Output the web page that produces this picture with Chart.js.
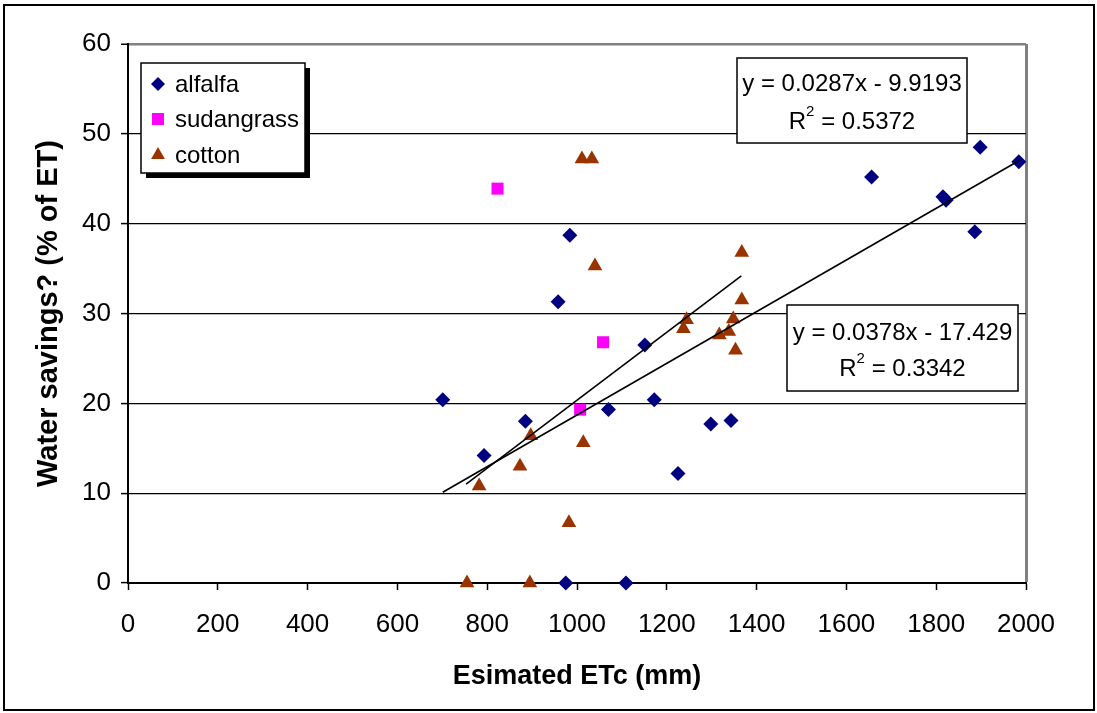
<!DOCTYPE html>
<html>
<head>
<meta charset="utf-8">
<script src="https://cdn.jsdelivr.net/npm/chart.js@4/dist/chart.umd.min.js"></script>
<style>
html,body{margin:0;padding:0;background:#fff;}
canvas{display:block;}
</style>
</head>
<body>
<canvas id="c" width="1097" height="713" style="width:1097px;height:713px"></canvas>
<script>
// ---- data ----
const alfalfaX = [701, 793, 885, 958, 984, 975, 1109, 1070, 1151, 1172, 1225, 1298, 1343, 1656, 1815, 1822, 1886, 1898, 1984];
const alfalfaY = [20.4, 14.2, 18.0, 31.3, 38.7, 0, 0, 19.3, 26.5, 20.4, 12.2, 17.7, 18.1, 45.2, 43.0, 42.6, 39.1, 48.5, 46.9];
const sudanX = [823, 1007, 1058];
const sudanY = [43.9, 19.3, 26.8];
const cottonX = [755, 895, 782, 873, 897, 1014, 982, 1040, 1011, 1033, 1244, 1237, 1367, 1348, 1317, 1338, 1353, 1367];
const cottonY = [0, 0, 10.8, 13.0, 16.4, 15.6, 6.7, 35.3, 47.2, 47.2, 29.3, 28.3, 31.5, 29.4, 27.6, 28.0, 25.9, 36.8];
// trendline endpoints (as drawn in the reference)
const alfalfaTrendX = [701, 1984];
const alfalfaTrendY = [10.1, 47.0];
const cottonTrendX = [753, 1366];
const cottonTrendY = [11.0, 34.2];
const seriesNames = ['alfalfa', 'sudangrass', 'cotton'];
const eqAlfalfa = ['y = 0.0287x - 9.9193', '0.5372'];
const eqCotton = ['y = 0.0378x - 17.429', '0.3342'];
const xTitle = 'Esimated ETc (mm)';
const yTitle = 'Water savings? (% of ET)';

const FONT = "'Liberation Sans', Arial, sans-serif";
const toPts = (xs, ys) => xs.map((x, i) => ({x: x, y: ys[i]}));

const colors = {alfalfa: '#000080', sudangrass: '#FF00FF', cotton: '#993300'};

function drawMarker(ctx, style, x, y, color) {
  ctx.save();
  ctx.fillStyle = color;
  ctx.beginPath();
  if (style === 'rectRot') {
    const r = 7;
    ctx.moveTo(x - r, y); ctx.lineTo(x, y - r); ctx.lineTo(x + r, y); ctx.lineTo(x, y + r);
  } else if (style === 'rect') {
    const s = 6;
    ctx.rect(x - s, y - s, 2 * s, 2 * s);
  } else {
    const r = 8;
    ctx.moveTo(x, y - r);
    ctx.lineTo(x + r * Math.sin(2 * Math.PI / 3), y - r * Math.cos(2 * Math.PI / 3));
    ctx.lineTo(x + r * Math.sin(4 * Math.PI / 3), y - r * Math.cos(4 * Math.PI / 3));
  }
  ctx.closePath();
  ctx.fill();
  ctx.restore();
}

function drawEqBox(ctx, x0, y0, x1, y1, eq, l1y, l2y) {
  ctx.save();
  ctx.fillStyle = '#fff';
  ctx.fillRect(x0, y0, x1 - x0, y1 - y0);
  ctx.strokeStyle = '#000';
  ctx.lineWidth = 1.5;
  ctx.strokeRect(x0, y0, x1 - x0, y1 - y0);
  const cx = (x0 + x1) / 2;
  ctx.fillStyle = '#000';
  ctx.textBaseline = 'middle';
  ctx.textAlign = 'center';
  ctx.font = '24px ' + FONT;
  ctx.fillText(eq[0], cx, l1y);
  const partR = 'R';
  const partRest = ' = ' + eq[1];
  const wR = ctx.measureText(partR).width;
  const wRest = ctx.measureText(partRest).width;
  ctx.font = '15px ' + FONT;
  const w2 = ctx.measureText('2').width;
  const total = wR + w2 + wRest;
  const sx = cx - total / 2;
  ctx.textAlign = 'left';
  ctx.font = '24px ' + FONT;
  ctx.fillText(partR, sx, l2y);
  ctx.font = '15px ' + FONT;
  ctx.fillText('2', sx + wR, l2y - 10);
  ctx.font = '24px ' + FONT;
  ctx.fillText(partRest, sx + wR + w2, l2y);
  ctx.restore();
}

const decor = {
  id: 'decor',
  beforeDraw(chart) {
    const ctx = chart.ctx;
    ctx.save();
    ctx.fillStyle = '#fff';
    ctx.fillRect(0, 0, chart.width, chart.height);
    ctx.restore();
  },
  afterDraw(chart) {
    const ctx = chart.ctx;
    ctx.save();
    ctx.strokeStyle = '#000';
    ctx.lineWidth = 2;
    ctx.strokeRect(4, 5, 1090, 705);
    ctx.restore();

    // legend box with shadow
    ctx.save();
    ctx.fillStyle = '#000';
    ctx.fillRect(146, 68, 164, 110);
    ctx.fillStyle = '#fff';
    ctx.fillRect(141, 63, 164, 110);
    ctx.strokeStyle = '#000';
    ctx.lineWidth = 1.5;
    ctx.strokeRect(141, 63, 164, 110);
    const styles = ['rectRot', 'rect', 'triangle'];
    const ys = [84, 119, 155];
    ctx.font = '24px ' + FONT;
    ctx.textBaseline = 'middle';
    ctx.textAlign = 'left';
    seriesNames.forEach((n, i) => {
      drawMarker(ctx, styles[i], 158, ys[i], colors[n]);
      ctx.fillStyle = '#000';
      ctx.fillText(n, 175, ys[i] + 1);
    });
    ctx.restore();

    drawEqBox(ctx, 737, 58, 967, 143, eqAlfalfa, 84, 122);
    drawEqBox(ctx, 787, 305, 1018, 391, eqCotton, 333, 369);
  }
};

new Chart(document.getElementById('c'), {
  type: 'scatter',
  data: {
    datasets: [
      {type: 'line', label: 'alfalfa trend', data: toPts(alfalfaTrendX, alfalfaTrendY), borderColor: '#000', borderWidth: 1.6, pointRadius: 0, fill: false, showLine: true, order: 0},
      {type: 'line', label: 'cotton trend', data: toPts(cottonTrendX, cottonTrendY), borderColor: '#000', borderWidth: 1.6, pointRadius: 0, fill: false, showLine: true, order: 0},
      {label: seriesNames[0], data: toPts(alfalfaX, alfalfaY), pointStyle: 'rectRot', pointRadius: 7.5, backgroundColor: colors.alfalfa, borderColor: colors.alfalfa, borderWidth: 0, clip: false, order: 1},
      {label: seriesNames[1], data: toPts(sudanX, sudanY), pointStyle: 'rect', pointRadius: 8.5, backgroundColor: colors.sudangrass, borderColor: colors.sudangrass, borderWidth: 0, clip: false, order: 1},
      {label: seriesNames[2], data: toPts(cottonX, cottonY), pointStyle: 'triangle', pointRadius: 8.5, backgroundColor: colors.cotton, borderColor: colors.cotton, borderWidth: 0, clip: false, order: 1}
    ]
  },
  options: {
    responsive: false,
    animation: false,
    devicePixelRatio: 1,
    layout: {padding: {left: 0, right: 71, top: 44, bottom: 0}},
    plugins: {legend: {display: false}, tooltip: {enabled: false}},
    scales: {
      x: {
        type: 'linear', min: 0, max: 2000,
        afterFit(s) { s.height = 130; },
        ticks: {stepSize: 200, color: '#000', font: {family: FONT, size: 26}, padding: 19, maxRotation: 0, autoSkip: false, callback: v => String(v)},
        grid: {
          color: c => c.tick && c.tick.value === 2000 ? '#808080' : 'rgba(0,0,0,0)',
          lineWidth: c => c.tick && c.tick.value === 2000 ? 3 : 1,
          tickColor: '#000', tickLength: 7, tickWidth: 1.5
        },
        border: {display: true, color: '#000', width: 2},
        title: {display: true, text: xTitle, color: '#000', font: {family: FONT, size: 27, weight: 'bold'}, padding: {top: 0, bottom: 20}}
      },
      y: {
        type: 'linear', min: 0, max: 60,
        afterFit(s) { s.width = 128; },
        ticks: {stepSize: 10, color: '#000', font: {family: FONT, size: 26}, padding: 10, callback: v => String(v)},
        grid: {
          color: c => c.tick && c.tick.value === 60 ? '#808080' : '#000',
          lineWidth: c => c.tick && c.tick.value === 60 ? 2.5 : 1.2,
          tickColor: '#000', tickLength: 7, tickWidth: 1.5
        },
        border: {display: true, color: '#000', width: 2},
        title: {display: true, text: yTitle, color: '#000', font: {family: FONT, size: 29, weight: 'bold'}, padding: {top: 32, bottom: 0}}
      }
    }
  },
  plugins: [decor]
});
</script>
</body>
</html>
